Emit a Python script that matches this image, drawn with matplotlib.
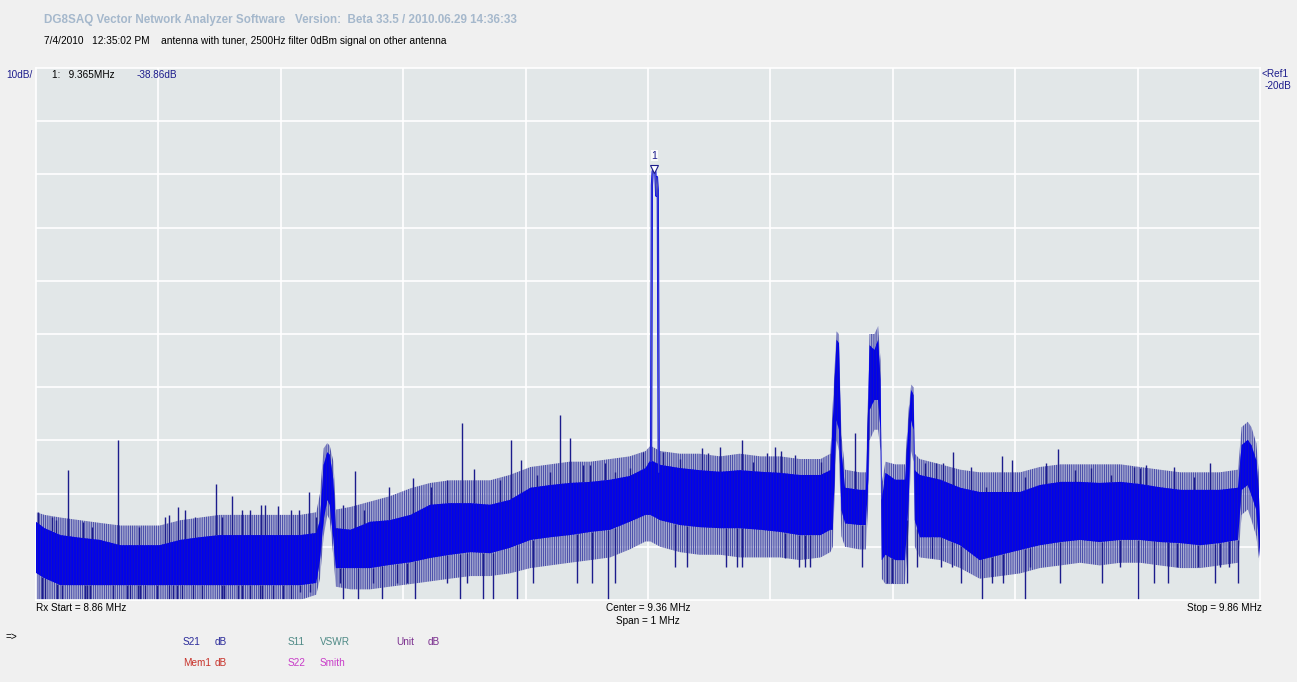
import matplotlib
matplotlib.use("Agg")
import matplotlib.pyplot as plt
import numpy as np

# sweep settings shown on the screen
F_START, F_STOP = 8.86, 9.86
REF_DB, DB_PER_DIV, N_DIV = -20.0, 10.0, 10

# noise band of the S21 trace: frequency (MHz), dense core upper/lower edge (dB)
band_f = [8.860, 8.867, 8.880, 8.896, 8.912, 8.929, 8.945, 8.961, 8.978, 8.994,
          9.010, 9.027, 9.043, 9.059, 9.076, 9.089, 9.092, 9.095, 9.098, 9.100,
          9.103, 9.105, 9.117, 9.133, 9.149, 9.166, 9.182, 9.198, 9.215, 9.231,
          9.247, 9.264, 9.280, 9.296, 9.313, 9.329, 9.345, 9.358, 9.362, 9.370,
          9.386, 9.402, 9.419, 9.435, 9.452, 9.468, 9.484, 9.501, 9.509, 9.511,
          9.514, 9.516, 9.518, 9.521, 9.533, 9.538, 9.540, 9.541, 9.545, 9.548,
          9.550, 9.551, 9.554, 9.562, 9.570, 9.573, 9.575, 9.577, 9.578, 9.582,
          9.599, 9.615, 9.631, 9.648, 9.664, 9.680, 9.697, 9.713, 9.729, 9.746,
          9.762, 9.778, 9.795, 9.811, 9.827, 9.842, 9.845, 9.850, 9.853, 9.857,
          9.859, 9.860]
band_hi = [-105.3, -106.5, -107.8, -108.3, -108.7, -109.7, -109.7, -109.7, -108.7, -108.2,
           -107.8, -107.8, -107.8, -107.8, -107.8, -107.4, -105.0, -94.6, -92.2, -92.7,
           -97.4, -106.5, -106.8, -105.3, -105.0, -104.0, -102.1, -101.8, -101.8, -102.1,
           -101.2, -98.9, -98.4, -98.0, -97.8, -97.4, -96.7, -95.2, -93.7, -94.6,
           -95.2, -95.6, -95.9, -95.6, -95.9, -96.1, -96.5, -96.5, -95.6, -86.2,
           -71.1, -71.7, -91.8, -98.9, -99.3, -99.3, -82.4, -72.1, -73.0, -71.1,
           -78.6, -101.2, -96.1, -97.4, -97.4, -86.2, -80.5, -81.5, -95.6, -96.5,
           -97.4, -98.9, -99.7, -99.7, -99.7, -98.4, -97.8, -97.8, -98.0, -97.8,
           -98.2, -98.8, -99.3, -99.3, -99.3, -98.9, -90.9, -89.9, -90.9, -93.7,
           -99.3, -106.8]
band_lo = [-114.9, -115.9, -117.2, -117.2, -117.2, -117.2, -117.2, -117.2, -117.2, -117.2,
           -117.2, -117.2, -117.2, -117.2, -117.2, -116.8, -112.5, -105.0, -101.2, -102.1,
           -108.7, -114.0, -114.0, -114.0, -113.4, -112.9, -112.1, -111.5, -111.0, -111.2,
           -110.2, -108.7, -108.2, -107.8, -107.2, -106.8, -105.3, -104.0, -104.0, -105.0,
           -105.9, -106.3, -106.5, -106.5, -106.8, -107.2, -107.8, -107.8, -106.8, -106.8,
           -86.2, -88.0, -103.1, -105.6, -105.9, -105.9, -97.4, -84.3, -82.4, -82.4,
           -88.0, -112.5, -111.5, -112.5, -112.5, -101.2, -86.2, -88.0, -105.0, -108.2,
           -108.2, -109.7, -112.5, -111.5, -110.6, -109.7, -109.1, -108.7, -109.1, -108.7,
           -108.7, -109.1, -109.3, -109.7, -109.3, -108.7, -99.3, -98.4, -100.3, -103.1,
           -108.7, -111.9]

# looser fringe of the trace around the core (same frequencies as band_f)
fringe_hi = [-103.5, -104.0, -104.5, -105.0, -105.5, -106.0, -106.0, -106.0, -105.0, -104.5,
             -104.0, -104.0, -104.0, -104.0, -104.0, -103.5, -100.0, -91.5, -90.5, -91.0,
             -94.0, -103.0, -102.5, -101.5, -100.5, -99.0, -98.0, -97.5, -97.5, -97.5,
             -96.5, -95.0, -94.5, -94.0, -94.0, -93.5, -93.0, -92.0, -91.0, -92.0,
             -92.5, -92.5, -93.0, -92.5, -93.0, -93.0, -93.5, -93.5, -92.5, -83.0,
             -69.5, -70.0, -89.0, -95.5, -96.0, -96.0, -80.0, -70.0, -70.0, -68.5,
             -75.0, -98.0, -94.0, -94.5, -94.5, -84.0, -79.5, -80.0, -92.5, -93.5,
             -94.5, -95.5, -96.0, -96.0, -96.0, -95.0, -94.5, -94.5, -94.5, -94.5,
             -95.0, -95.5, -96.0, -96.0, -96.0, -95.5, -87.5, -86.5, -87.5, -90.5,
             -96.0, -104.0]
fringe_lo = [-120.0, -120.0, -120.0, -120.0, -120.0, -120.0, -120.0, -120.0, -120.0, -120.0,
             -120.0, -120.0, -120.0, -120.0, -120.0, -119.0, -116.0, -108.0, -104.0, -105.0,
             -112.0, -117.5, -118.0, -118.0, -117.5, -117.0, -116.5, -116.0, -115.5, -115.5,
             -115.0, -114.0, -113.5, -113.0, -112.5, -112.0, -110.5, -109.0, -109.0, -110.0,
             -111.0, -111.5, -111.5, -112.0, -112.0, -112.0, -112.5, -112.0, -111.0, -110.0,
             -90.0, -92.0, -108.0, -110.0, -110.5, -110.5, -102.0, -90.0, -88.0, -88.0,
             -92.0, -116.0, -117.0, -117.0, -117.0, -106.0, -92.0, -94.0, -110.0, -112.0,
             -112.5, -114.0, -116.0, -115.5, -115.0, -114.0, -113.5, -113.0, -113.5, -113.0,
             -113.0, -113.5, -114.0, -114.0, -113.5, -113.0, -104.0, -103.0, -105.0, -108.0,
             -112.0, -113.0]

# main carrier at the marker
peak_f = [9.3625, 9.3632, 9.3638, 9.3645, 9.3652, 9.3660, 9.3667, 9.3673, 9.3680, 9.3688]
peak_db = [-94.0, -42.0, -39.5, -38.9, -38.8, -39.6, -44.0, -40.5, -43.0, -96.0]

# single spikes above the band: frequency (MHz), top (dB)
spike_f = [8.862, 8.873, 8.876, 8.886, 8.898, 8.906, 8.927, 8.944, 8.965, 8.969,
           8.976, 8.982, 8.990, 9.007, 9.012, 9.020, 9.028, 9.035, 9.044, 9.047,
           9.058, 9.068, 9.075, 9.083, 9.089, 9.111, 9.121, 9.128, 9.148, 9.168,
           9.183, 9.196, 9.208, 9.218, 9.239, 9.248, 9.256, 9.269, 9.280, 9.288,
           9.296, 9.307, 9.313, 9.325, 9.333, 9.345, 9.356, 9.372, 9.386, 9.404,
           9.409, 9.419, 9.437, 9.446, 9.457, 9.464, 9.469, 9.480, 9.501, 9.529,
           9.566, 9.586, 9.595, 9.601, 9.609, 9.624, 9.636, 9.649, 9.657, 9.668,
           9.685, 9.695, 9.709, 9.722, 9.738, 9.757, 9.762, 9.767, 9.790, 9.806,
           9.819]
spike_db = [-103.5, -104.4, -105.0, -95.6, -105.3, -106.3, -89.9, -106.3, -104.4, -104.0,
            -102.5, -103.1, -104.4, -98.2, -104.4, -100.5, -103.1, -103.1, -102.1, -102.1,
            -102.3, -103.1, -103.1, -99.7, -104.4, -102.1, -95.8, -103.0, -98.8, -97.1,
            -98.8, -97.4, -86.7, -95.4, -97.4, -89.9, -93.7, -96.5, -95.9, -85.2,
            -89.5, -94.6, -94.6, -94.2, -95.9, -95.2, -92.2, -92.2, -93.5, -91.4,
            -92.4, -91.2, -89.9, -94.0, -92.4, -91.2, -92.0, -92.7, -94.0, -88.6,
            -97.5, -94.2, -94.2, -94.2, -92.2, -95.0, -98.8, -92.9, -93.7, -96.9,
            -94.2, -91.6, -95.6, -95.2, -96.5, -95.0, -95.2, -94.6, -95.0, -96.9,
            -94.2]

# single dips below the band: frequency (MHz), bottom (dB)
dip_f = [8.865, 8.867, 8.877, 8.881, 8.900, 8.902, 8.904, 8.923, 8.934, 8.937,
         8.943, 8.945, 8.949, 8.959, 8.969, 8.972, 8.975, 8.979, 8.988, 8.996,
         9.012, 9.014, 9.025, 9.028, 9.035, 9.043, 9.045, 9.054, 9.062, 9.068,
         9.076, 9.084, 9.108, 9.111, 9.123, 9.135, 9.143, 9.155, 9.163, 9.170,
         9.196, 9.206, 9.212, 9.225, 9.233, 9.253, 9.266, 9.302, 9.314, 9.327,
         9.333, 9.382, 9.392, 9.424, 9.433, 9.437, 9.472, 9.483, 9.488, 9.492,
         9.535, 9.555, 9.559, 9.572, 9.580, 9.592, 9.599, 9.608, 9.616, 9.633,
         9.641, 9.650, 9.668, 9.672, 9.697, 9.731, 9.746, 9.760, 9.773, 9.785,
         9.792, 9.809, 9.823, 9.827, 9.835, 9.842]
dip_db = [-120.0, -120.0, -120.0, -120.0, -120.0, -120.0, -120.0, -120.0, -120.0, -120.0,
          -120.0, -120.0, -120.0, -120.0, -120.0, -120.0, -120.0, -120.0, -120.0, -120.0,
          -120.0, -120.0, -120.0, -120.0, -120.0, -120.0, -120.0, -120.0, -120.0, -120.0,
          -118.5, -118.5, -116.8, -120.0, -120.0, -116.8, -120.0, -116.8, -116.8, -120.0,
          -116.8, -120.0, -116.8, -120.0, -120.0, -120.0, -116.8, -116.8, -116.8, -120.0,
          -116.8, -113.8, -113.8, -113.8, -113.8, -113.8, -112.1, -113.8, -113.8, -113.8,
          -113.8, -116.8, -116.8, -116.8, -113.8, -112.1, -113.8, -113.8, -116.8, -120.0,
          -116.8, -116.8, -120.0, -113.8, -116.8, -116.8, -113.8, -120.0, -116.8, -116.8,
          -113.8, -113.8, -116.8, -113.8, -113.8, -116.8]

marker_f, marker_db = 9.365, -38.86

W, H = 1297, 682
BG = "#f0f0f0"
PLOT_BG = "#e2e7e8"
TRACE = "#0000f0"
NAVY = "#1c1c8c"
FONT = "Liberation Sans"
FS = 7.2

plt.rcParams["hatch.linewidth"] = 0.9


def px(x, y):
    return x / W, 1 - y / H


fig = plt.figure(figsize=(W / 100, H / 100), dpi=100, facecolor=BG)
x0, y0 = px(36, 600)
x1, y1 = px(1260, 68)
ax = fig.add_axes([x0, y0, x1 - x0, y1 - y0], facecolor=PLOT_BG)

bottom_db = REF_DB - DB_PER_DIV * N_DIV
ax.set_xlim(F_START, F_STOP)
ax.set_ylim(bottom_db, REF_DB)

span = F_STOP - F_START
for i in range(1, N_DIV):
    ax.axvline(F_START + span * i / N_DIV, color="white", lw=1.2, zorder=1)
    ax.axhline(REF_DB - DB_PER_DIV * i, color="white", lw=1.2, zorder=1)

for s in ax.spines.values():
    s.set_color("white")
    s.set_linewidth(1.2)
ax.set_xticks([])
ax.set_yticks([])

# trace: fringe, spikes and dips, then the dense core
ax.fill_between(band_f, fringe_lo, fringe_hi, facecolor="none", edgecolor="#4e52ac",
                hatch="|" * 9, lw=0, zorder=2)
dip_top = np.interp(dip_f, band_f, band_lo)
spike_base = np.interp(spike_f, band_f, band_hi)
ax.vlines(dip_f, dip_db, dip_top, color=NAVY, lw=1.0, zorder=2)
ax.vlines(spike_f, spike_base, spike_db, color=NAVY, lw=1.0, zorder=2)
ax.fill_between(band_f, band_lo, band_hi, facecolor=TRACE, edgecolor="#1010c8",
                hatch="|" * 6, lw=0, zorder=3)
ax.plot(peak_f, peak_db, color=TRACE, lw=1.6, zorder=4)
ax.plot(peak_f, peak_db, color="#5a5fb0", lw=0.6, zorder=4)

# marker 1
ax.plot([marker_f], [marker_db - 0.2], marker="v", ms=6, mfc="white", mec=NAVY, mew=0.8, zorder=5)
ax.text(marker_f, marker_db + 2.4, "1", ha="center", va="center", fontsize=7.5,
        family=FONT, color=NAVY, zorder=5,
        bbox=dict(boxstyle="square,pad=0.05", fc="white", ec="none", alpha=0.8))

fig.text(*px(44, 20), "DG8SAQ Vector Network Analyzer Software   Version:  Beta 33.5 / 2010.06.29 14:36:33",
         fontsize=8.4, weight="bold", color="#a5b8cc", family=FONT, va="center")
fig.text(*px(44, 41), "7/4/2010   12:35:02 PM    antenna with tuner, 2500Hz filter 0dBm signal on other antenna",
         fontsize=7.3, color="black", family=FONT, va="center")
fig.text(*px(6, 75), "10dB/", fontsize=FS, color=NAVY, family=FONT, va="center")
fig.text(*px(52, 75), "1:   9.365MHz", fontsize=FS, color="black", family=FONT, va="center")
fig.text(*px(137, 75), "-38.86dB", fontsize=FS, color=NAVY, family=FONT, va="center")
fig.text(*px(1262, 74), "<Ref1", fontsize=FS, color=NAVY, family=FONT, va="center")
fig.text(*px(1265, 86), "-20dB", fontsize=FS, color=NAVY, family=FONT, va="center")

fig.text(*px(36, 608), "Rx Start = 8.86 MHz", fontsize=FS, color="black", family=FONT, va="center")
fig.text(*px(648, 608), "Center = 9.36 MHz", fontsize=FS, color="black", family=FONT, va="center", ha="center")
fig.text(*px(648, 621), "Span = 1 MHz", fontsize=FS, color="black", family=FONT, va="center", ha="center")
fig.text(*px(1262, 608), "Stop = 9.86 MHz", fontsize=FS, color="black", family=FONT, va="center", ha="right")

fig.text(*px(6, 637), "=>", fontsize=FS, color="black", family=FONT, va="center")
legend = [
    (183, 642, "S21", "dB", "#2a2a9a"),
    (288, 642, "S11", "VSWR", "#4f8a86"),
    (396, 642, "Unit", "dB", "#7a2e8e"),
    (183, 663, "Mem1", "dB", "#c8322a"),
    (288, 663, "S22", "Smith", "#c83cc8"),
]
for lx, ly, name, unit, col in legend:
    fig.text(*px(lx, ly), name, fontsize=FS, color=col, family=FONT, va="center")
    fig.text(*px(lx + 32, ly), unit, fontsize=FS, color=col, family=FONT, va="center")

fig.savefig("out.png", dpi=100, facecolor=BG)
